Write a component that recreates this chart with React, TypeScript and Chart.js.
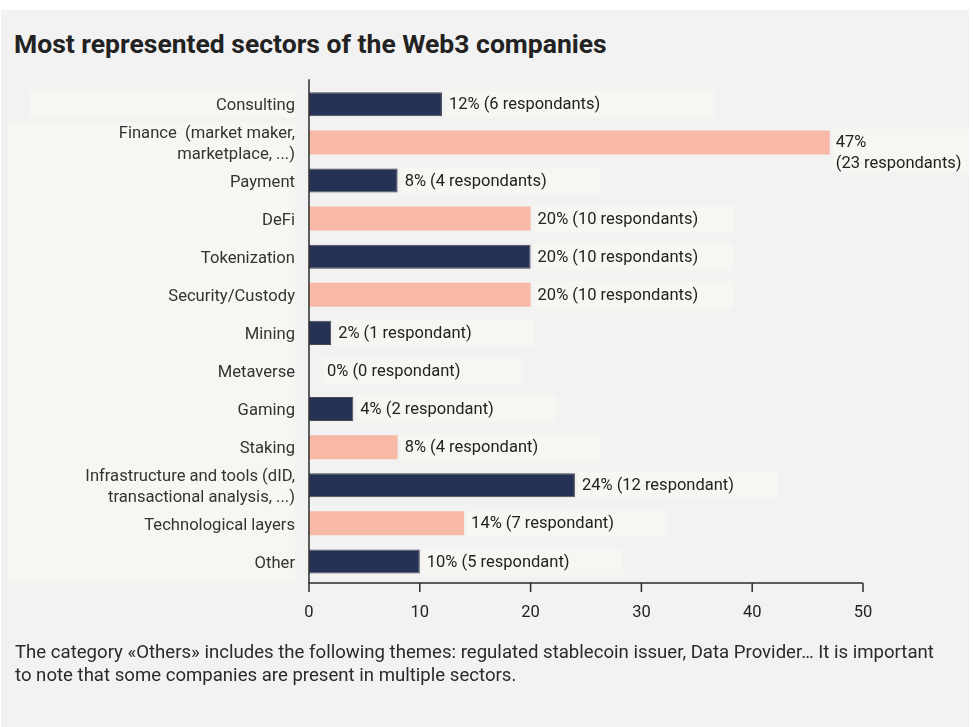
import React, { useEffect, useRef } from "react";
import { Chart, registerables } from "chart.js";

Chart.register(...registerables);

const categories: (string | string[])[] = [
  "Consulting",
  ["Finance  (market maker,", "marketplace, ...)"],
  "Payment",
  "DeFi",
  "Tokenization",
  "Security/Custody",
  "Mining",
  "Metaverse",
  "Gaming",
  "Staking",
  ["Infrastructure and tools (dID,", "transactional analysis, ...)"],
  "Technological layers",
  "Other",
];

const shares = [12, 47, 8, 20, 20, 20, 2, 0, 4, 8, 24, 14, 10];

const valueLabels: (string | string[])[] = [
  "12% (6 respondants)",
  ["47%", "(23 respondants)"],
  "8% (4 respondants)",
  "20% (10 respondants)",
  "20% (10 respondants)",
  "20% (10 respondants)",
  "2% (1 respondant)",
  "0% (0 respondant)",
  "4% (2 respondant)",
  "8% (4 respondant)",
  "24% (12 respondant)",
  "14% (7 respondant)",
  "10% (5 respondant)",
];

const xTicks = [0, 10, 20, 30, 40, 50];

const NAVY = "#253256";
const SALMON = "#f8b9a7";
const STRIP = "#f6f6f2";
const FONT = "Roboto, 'Noto Sans', sans-serif";

const overlayPlugin = {
  id: "overlay",
  beforeDraw(chart: any) {
    const { ctx, chartArea } = chart;
    const xs = chart.scales.x;
    const ys = chart.scales.y;
    ctx.save();
    ctx.fillStyle = STRIP;
    const y0 = ys.getPixelForValue(0);
    const y1 = ys.getPixelForValue(1);
    const yLast = ys.getPixelForValue(categories.length - 1);
    ctx.fillRect(30, y0 - 14, chartArea.left - 14 - 30, 27);
    ctx.fillRect(8, y1 - 20, chartArea.left - 14 - 8, yLast + 21 - (y1 - 20));
    shares.forEach((v, i) => {
      const yc = ys.getPixelForValue(i);
      const off = v === 0 ? 18 : 7;
      const sx = xs.getPixelForValue(v) + off - 4;
      if (Array.isArray(valueLabels[i])) {
        ctx.fillRect(sx, yc - 14, 969 - sx, 44);
      } else {
        const w = i === 0 ? 270 : 200;
        ctx.fillRect(sx, yc - 13.5, w, 27);
      }
    });
    ctx.restore();
  },
  afterDatasetsDraw(chart: any) {
    const { ctx, chartArea } = chart;
    const xs = chart.scales.x;
    const ys = chart.scales.y;
    const axisY = chartArea.bottom + 2.5;
    ctx.save();
    ctx.strokeStyle = "#2b2b2b";
    ctx.lineWidth = 1.5;
    ctx.beginPath();
    ctx.moveTo(chartArea.left, chartArea.top - 6);
    ctx.lineTo(chartArea.left, axisY);
    ctx.lineTo(chartArea.right, axisY);
    ctx.stroke();
    xTicks.forEach((t) => {
      const px = xs.getPixelForValue(t);
      ctx.beginPath();
      ctx.moveTo(px, axisY);
      ctx.lineTo(px, axisY + 9);
      ctx.stroke();
    });
    ctx.fillStyle = "#222222";
    ctx.font = `16.5px ${FONT}`;
    ctx.textAlign = "left";
    ctx.textBaseline = "middle";
    shares.forEach((v, i) => {
      const yc = ys.getPixelForValue(i);
      const off = v === 0 ? 18 : 7;
      const x = xs.getPixelForValue(v) + off;
      const lab = valueLabels[i];
      if (Array.isArray(lab)) {
        lab.forEach((l, k) => ctx.fillText(l, x - 1, yc + k * 21));
      } else {
        ctx.fillText(lab, x, yc + 1);
      }
    });
    ctx.restore();
  },
};

export default function App() {
  const ref = useRef<HTMLCanvasElement | null>(null);

  useEffect(() => {
    if (!ref.current) return;
    const chart = new Chart(ref.current, {
      type: "bar",
      data: {
        labels: categories,
        datasets: [
          {
            data: shares,
            backgroundColor: shares.map((_, i) => (i % 2 === 0 ? NAVY : SALMON)),
            borderColor: shares.map((_, i) => (i % 2 === 0 ? "#4a4a4a" : SALMON)),
            borderWidth: shares.map((_, i) => (i % 2 === 0 ? 1 : 0)),
            borderSkipped: false,
            barPercentage: 0.63,
            categoryPercentage: 1,
          },
        ],
      },
      options: {
        indexAxis: "y",
        animation: false,
        responsive: false,
        maintainAspectRatio: false,
        devicePixelRatio: 1,
        layout: { padding: { left: 0, top: 85.25, right: 110, bottom: 106.5 } },
        plugins: {
          legend: { display: false },
          tooltip: { enabled: false },
          title: { display: false },
        },
        scales: {
          x: {
            type: "linear",
            min: 0,
            max: 50,
            afterBuildTicks: (scale: any) => {
              scale.ticks = xTicks.map((v) => ({ value: v }));
            },
            afterFit: (scale: any) => {
              scale.height = 40;
            },
            grid: { display: false, drawTicks: false },
            border: { display: false },
            ticks: {
              padding: 22,
              color: "#222222",
              font: { family: FONT, size: 16.5 },
            },
          },
          y: {
            type: "category",
            afterFit: (scale: any) => {
              scale.width = 309;
            },
            grid: { display: false, drawTicks: false },
            border: { display: false },
            ticks: {
              padding: 14,
              autoSkip: false,
              labelOffset: 2,
              color: "#333333",
              font: { family: FONT, size: 16.6, lineHeight: 1.28 },
            },
          },
        },
      },
      plugins: [overlayPlugin],
    });
    return () => chart.destroy();
  }, []);

  return (
    <div
      style={{
        position: "absolute",
        left: 0,
        top: 0,
        width: 973,
        height: 727,
        background: "#ffffff",
        overflow: "hidden",
      }}
    >
      <div
        style={{
          position: "absolute",
          left: 1,
          top: 10,
          width: 968,
          height: 717,
          background: "#f2f2f2",
        }}
      />
      <div
        style={{
          position: "absolute",
          left: 14,
          top: 27,
          fontFamily: FONT,
          fontWeight: 700,
          fontSize: 26.5,
          lineHeight: "34px",
          color: "#222222",
          whiteSpace: "nowrap",
        }}
      >
        Most represented sectors of the Web3 companies
      </div>
      <canvas
        ref={ref}
        width={973}
        height={727}
        style={{ position: "absolute", left: 0, top: 0, width: 973, height: 727 }}
      />
      <div
        style={{
          position: "absolute",
          left: 15,
          top: 641,
          fontFamily: FONT,
          fontSize: 18.6,
          lineHeight: "23px",
          color: "#2a2a2a",
          whiteSpace: "nowrap",
        }}
      >
        The category «Others» includes the following themes: regulated stablecoin issuer, Data Provider… It is important
        <br />
        to note that some companies are present in multiple sectors.
      </div>
    </div>
  );
}
